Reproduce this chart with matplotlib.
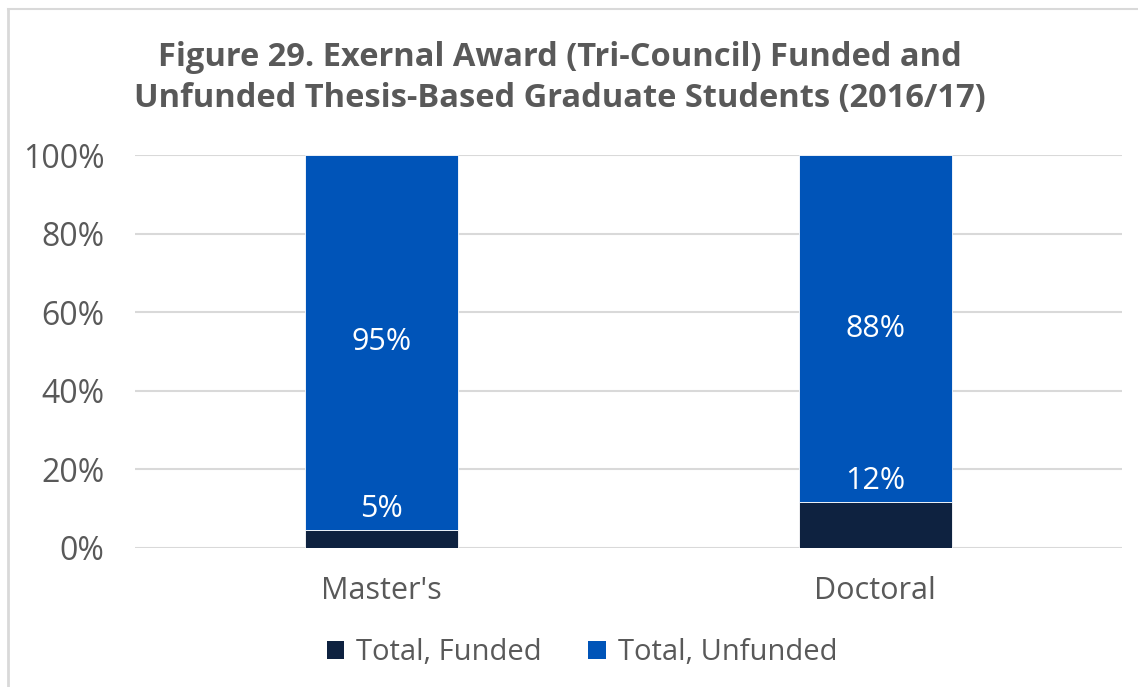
import matplotlib
matplotlib.use("Agg")
import matplotlib.pyplot as plt
from matplotlib.lines import Line2D
from matplotlib.patches import Patch

categories = ["Master's", "Doctoral"]
funded = [4.6, 11.7]
unfunded = [95.4, 88.3]
series_names = ["Total, Funded", "Total, Unfunded"]
yticks = [0, 20, 40, 60, 80, 100]
ytick_labels = ["0%", "20%", "40%", "60%", "80%", "100%"]
title = "Figure 29. Exernal Award (Tri-Council) Funded and\nUnfunded Thesis-Based Graduate Students (2016/17)"

c_funded = "#0E2240"
c_unfunded = "#0054B8"
txt = "#595959"
grid_c = "#D9D9D9"

plt.rcParams['font.family'] = ['Open Sans', 'DejaVu Sans']

W, H = 1138, 687
fig = plt.figure(figsize=(W / 100, H / 100), dpi=100)
ax = fig.add_axes([135 / W, 1 - 548 / H, (1122 - 135) / W, (548 - 155) / H])

x = list(range(len(categories)))
bw = 0.31
ax.bar(x, funded, width=bw, color=c_funded, edgecolor="white", linewidth=0.6, zorder=3)
ax.bar(x, unfunded, width=bw, bottom=funded, color=c_unfunded, edgecolor="white", linewidth=0.6, zorder=3)

for xi, f, u in zip(x, funded, unfunded):
    ax.annotate(f"{f:.0f}%", (xi, f), xytext=(0, 4), textcoords="offset points",
                ha="center", va="bottom", color="white", fontsize=22, zorder=4)
    ax.text(xi, f + u / 2, f"{u:.0f}%", ha="center", va="center", color="white", fontsize=22, zorder=4)

ax.set_xlim(-0.5, 1.5)
ax.set_ylim(0, 100)
ax.set_yticks(yticks)
ax.set_yticklabels(ytick_labels)
ax.set_xticks(x)
ax.set_xticklabels(categories)
ax.tick_params(axis="y", length=0, labelsize=23, colors=txt, pad=22)
ax.tick_params(axis="x", length=0, labelsize=22, colors=txt, pad=20)
for s in ax.spines.values():
    s.set_visible(False)
ax.yaxis.grid(True, color=grid_c, linewidth=1.5, zorder=0)
ax.set_axisbelow(True)

fig.text(560 / W, 1 - 78 / H, title, ha="center", va="center", fontsize=23.5, fontweight="bold",
         color=txt, linespacing=1.3)

handles = [Patch(facecolor=c_funded), Patch(facecolor=c_unfunded)]
fig.legend(handles, series_names, loc="center", bbox_to_anchor=(582 / W, 1 - 653 / H), ncol=2,
           frameon=False, fontsize=21, labelcolor=txt, handlelength=0.6, handleheight=0.6,
           handletextpad=0.4, columnspacing=1.6)

fig.add_artist(Line2D([8 / W, 8 / W], [0, 1 - 9 / H], color=grid_c, linewidth=2, transform=fig.transFigure))
fig.add_artist(Line2D([8 / W, 1], [1 - 9 / H, 1 - 9 / H], color=grid_c, linewidth=1.5, transform=fig.transFigure))

fig.savefig("out.png", dpi=100, facecolor="white")
